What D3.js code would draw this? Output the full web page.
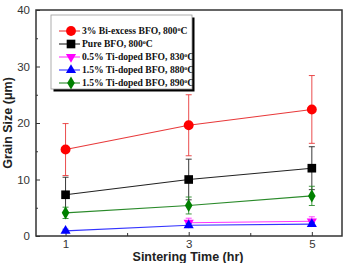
<!DOCTYPE html>
<html>
<head>
<meta charset="utf-8">
<script src="https://cdn.jsdelivr.net/npm/d3@7"></script>
<style>
  body { margin: 0; background: white; }
  svg { display: block; }
</style>
</head>
<body>
<div id="chart"></div>
<script>
// sintering time (hr)
let times = [1, 3, 5];
let seriesNames = [
  "3% Bi-excess BFO, 800°C",
  "Pure BFO, 800°C",
  "0.5% Ti-doped BFO, 830°C",
  "1.5% Ti-doped BFO, 880°C",
  "1.5% Ti-doped BFO, 890°C"
];
// grain size values (um), null = no point
let biExcess   = [15.3, 19.6, 22.4];
let pureBFO    = [7.3, 10.0, 12.0];
let ti05       = [null, 2.35, 2.6];
let ti15_880   = [0.9, 1.9, 2.1];
let ti15_890   = [4.1, 5.4, 7.1];
// error bars
let biExcessErr = [4.6, 5.4, 6.0];
let pureBFOErr  = [3.1, 3.6, 3.8];
let ti05Err     = [0, 0.8, 0.8];
let ti15_880Err = [0.3, 0.3, 0.3];
let ti15_890Err = [1.0, 1.5, 1.7];

let yTicks = [0, 10, 20, 30, 40];
let yMinor = [5, 15, 25, 35];
let xTicks = [1, 3, 5];
let xMinor = [2, 4];

let w = 344, h = 263;
let mLeft = 36, mRight = 342, mTop = 10, mBottom = 236;

let colors = ["#ff0000", "#000000", "#ff00ff", "#0000ff", "#008000"];
let lineColors = ["#e8393a", "#222222", "#ff33ff", "#3333ff", "#2a8a2a"];
let shapes = ["circle", "square", "down", "up", "diamond"];

let series = [
  {vals: biExcess, err: biExcessErr},
  {vals: pureBFO, err: pureBFOErr},
  {vals: ti05, err: ti05Err},
  {vals: ti15_880, err: ti15_880Err},
  {vals: ti15_890, err: ti15_890Err}
];

let svg = d3.select("#chart").append("svg")
  .attr("width", w).attr("height", h);

let x = d3.scaleLinear().domain([0.52, 5.49]).range([mLeft, mRight]);
let y = d3.scaleLinear().domain([0, 40]).range([mBottom, mTop]);

// axes
let gy = svg.append("g").attr("transform", "translate(" + mLeft + ",0)")
  .call(d3.axisLeft(y).tickValues(yTicks).tickSize(-4).tickPadding(6).tickFormat(d3.format("d")));
gy.select(".domain").remove();
gy.selectAll("text").style("font-family", "Liberation Sans, Arial, sans-serif")
  .style("font-size", "11.5px").attr("fill", "#333");
gy.selectAll("line").attr("stroke", "#333");

let gym = svg.append("g").attr("transform", "translate(" + mLeft + ",0)")
  .call(d3.axisLeft(y).tickValues(yMinor).tickSize(-2).tickFormat(""));
gym.select(".domain").remove();
gym.selectAll("line").attr("stroke", "#333");

let gx = svg.append("g").attr("transform", "translate(0," + mBottom + ")")
  .call(d3.axisBottom(x).tickValues(xTicks).tickSize(-4).tickPadding(4).tickFormat(d3.format("d")));
gx.select(".domain").remove();
gx.selectAll("text").style("font-family", "Liberation Sans, Arial, sans-serif")
  .style("font-size", "11.5px").attr("fill", "#333");
gx.selectAll("line").attr("stroke", "#333");

let gxm = svg.append("g").attr("transform", "translate(0," + mBottom + ")")
  .call(d3.axisBottom(x).tickValues(xMinor).tickSize(-3).tickFormat(""));
gxm.select(".domain").remove();
gxm.selectAll("line").attr("stroke", "#333");

// frame
svg.append("rect")
  .attr("x", mLeft).attr("y", mTop)
  .attr("width", mRight - mLeft).attr("height", mBottom - mTop)
  .attr("fill", "none").attr("stroke", "#333").attr("stroke-width", 1.5);

// axis titles
svg.append("text")
  .attr("x", 188).attr("y", 261)
  .attr("text-anchor", "middle")
  .style("font-family", "Liberation Sans, Arial, sans-serif")
  .style("font-weight", "bold").style("font-size", "12.5px")
  .attr("fill", "#222")
  .text("Sintering Time (hr)");

svg.append("text")
  .attr("transform", "translate(12," + ((mTop + mBottom) / 2) + ") rotate(-90)")
  .attr("text-anchor", "middle")
  .style("font-family", "Liberation Sans, Arial, sans-serif")
  .style("font-weight", "bold").style("font-size", "12.5px")
  .attr("fill", "#222")
  .text("Grain Size (\u03bcm)");

function drawMarker(g, shape, cx, cy, color, s) {
  if (shape == "circle") {
    g.append("circle").attr("cx", cx).attr("cy", cy).attr("r", s * 0.55).attr("fill", color);
  } else if (shape == "square") {
    g.append("rect").attr("x", cx - s * 0.48).attr("y", cy - s * 0.48)
      .attr("width", s * 0.96).attr("height", s * 0.96).attr("fill", color);
  } else {
    let sym = shape == "diamond" ? d3.symbolDiamond : d3.symbolTriangle;
    let rot = shape == "down" ? 180 : 0;
    let size = shape == "diamond" ? s * s * 0.62 : s * s * 0.55;
    g.append("path").attr("d", d3.symbol().type(sym).size(size)())
      .attr("transform", "translate(" + cx + "," + cy + ") rotate(" + rot + ")")
      .attr("fill", color);
  }
}

let line = d3.line()
  .defined(function(d) { return d.v != null; })
  .x(function(d) { return x(d.t); })
  .y(function(d) { return y(d.v); });

series.forEach(function(s, k) {
  let g = svg.append("g");
  let pts = times.map(function(t, i) { return {t: t, v: s.vals[i], e: s.err[i]}; });
  // error bars
  pts.forEach(function(p) {
    if (p.v == null || !p.e) return;
    let cx = x(p.t);
    g.append("line").attr("x1", cx).attr("x2", cx)
      .attr("y1", y(p.v - p.e)).attr("y2", y(p.v + p.e))
      .attr("stroke", lineColors[k]).attr("stroke-width", 0.9);
    [p.v - p.e, p.v + p.e].forEach(function(v) {
      g.append("line").attr("x1", cx - 3).attr("x2", cx + 3)
        .attr("y1", y(v)).attr("y2", y(v))
        .attr("stroke", lineColors[k]).attr("stroke-width", 0.9);
    });
  });
  g.append("path").datum(pts).attr("d", line)
    .attr("fill", "none").attr("stroke", lineColors[k]).attr("stroke-width", 1.1);
  pts.forEach(function(p) {
    if (p.v == null) return;
    drawMarker(g, shapes[k], x(p.t), y(p.v), colors[k], 9);
  });
});

// legend
let lx = 51, ly = 15, lw = 141, lh = 74;
svg.append("rect").attr("x", lx + 2.5).attr("y", ly + 2.5)
  .attr("width", lw).attr("height", lh).attr("fill", "#000");
svg.append("rect").attr("x", lx).attr("y", ly)
  .attr("width", lw).attr("height", lh)
  .attr("fill", "white").attr("stroke", "#999").attr("stroke-width", 0.8);

seriesNames.forEach(function(name, k) {
  let yy = ly + 16 + k * 13;
  let g = svg.append("g");
  g.append("line").attr("x1", lx + 8).attr("x2", lx + 29)
    .attr("y1", yy).attr("y2", yy)
    .attr("stroke", lineColors[k]).attr("stroke-width", 1.1);
  drawMarker(g, shapes[k], lx + 20, yy, colors[k], 9);
  let parts = name.split("°");
  let t = g.append("text").attr("x", lx + 31).attr("y", yy + 3.2)
    .style("font-family", "Liberation Serif, Times New Roman, serif")
    .style("font-weight", "bold").style("font-size", "9.6px")
    .attr("fill", "#111");
  t.append("tspan").text(parts[0]);
  t.append("tspan").attr("dy", -3.5).style("font-size", "6px").text("o");
  t.append("tspan").attr("dy", 3.5).text(parts[1]);
});
</script>
</body>
</html>
